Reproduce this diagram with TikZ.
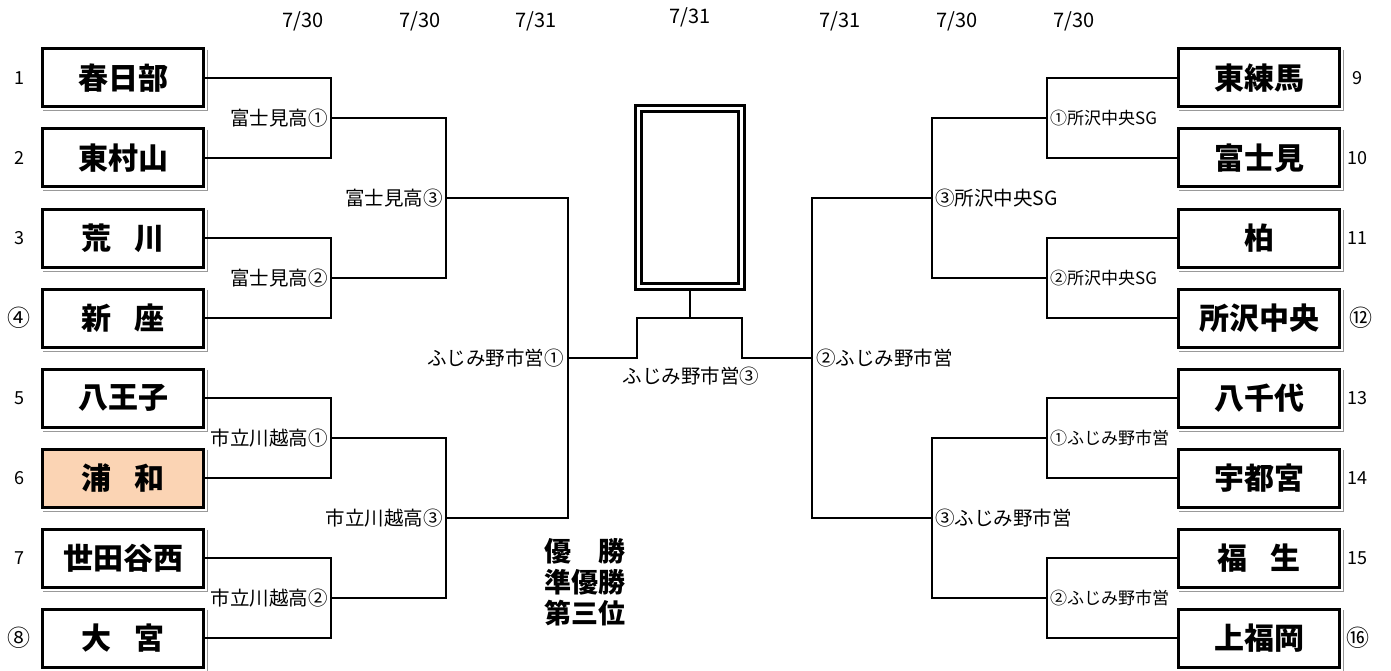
\documentclass[tikz,border=0pt]{standalone}
\usepackage{fontspec}
\setmainfont{Noto Sans CJK JP}
\definecolor{peach}{HTML}{FBD4B4}
\definecolor{shadowgray}{gray}{0.6}
\newcommand{\tsp}{{\fontsize{22.5}{22.5}\selectfont　}}
\begin{document}
\begin{tikzpicture}[x=1pt,y=-1pt,
  ln/.style={line width=2.7pt},
  team/.style={draw, line width=3pt, minimum width=161pt, minimum height=58pt,
    inner sep=0pt, outer sep=0pt, fill=white,
    font=\bfseries\fontsize{30}{30}\selectfont},
  lbl/.style={inner sep=0pt, font=\fontsize{19.5}{20}\selectfont},
  slbl/.style={inner sep=0pt, font=\fontsize{17}{18}\selectfont},
  num/.style={inner sep=0pt, font=\fontsize{18}{18}\selectfont},
  cnum/.style={inner sep=0pt, font=\fontsize{23}{23}\selectfont},
  date/.style={inner sep=0pt, font=\fontsize{20}{20}\selectfont},
  res/.style={inner sep=0pt, font=\bfseries\fontsize{27}{27}\selectfont}]
\useasboundingbox (0,0) rectangle (1391,671);

% left teams
\node[team] (b1) at (123,78)  {春日部};
\node[team] (b2) at (123,158) {東村山};
\node[team] (b3) at (123,238) {荒\tsp 川};
\node[team] (b4) at (123,318) {新\tsp 座};
\node[team] (b5) at (123,398) {八王子};
\node[team, fill=peach] (b6) at (123,478) {浦\tsp 和};
\node[team] (b7) at (123,558) {世田谷西};
\node[team] (b8) at (123,638) {大\tsp 宮};
% right teams
\node[team] (b9)  at (1259,78)  {東練馬};
\node[team] (b10) at (1259,158) {富士見};
\node[team] (b11) at (1259,238) {柏};
\node[team] (b12) at (1259,318) {所沢中央};
\node[team] (b13) at (1259,398) {八千代};
\node[team] (b14) at (1259,478) {宇都宮};
\node[team] (b15) at (1259,558) {福\tsp 生};
\node[team] (b16) at (1259,638) {上福岡};

\foreach \n in {b1,b2,b3,b4,b5,b6,b7,b8,b9,b10,b11,b12,b13,b14,b15,b16}
  \draw[draw=shadowgray, line width=1pt] ([xshift=4pt,yshift=-1pt]\n.north east) |- ([yshift=-4pt]\n.south west);

% seed numbers
\node[num] (n1) at (19,78)  {1};
\node[num] (n2) at (19,158) {2};
\node[num] (n3) at (19,238) {3};
\node[cnum] (n4) at (19,318) {④};
\node[num] (n5) at (19,398) {5};
\node[num] (n6) at (19,478) {6};
\node[num] (n7) at (19,558) {7};
\node[cnum] (n8) at (19,638) {⑧};
\node[num] (n9)  at (1357,78)  {9};
\node[num] (n10) at (1357,158) {10};
\node[num] (n11) at (1357,238) {11};
\node[cnum] (n12) at (1361,318) {⑫};
\node[num] (n13) at (1357,398) {13};
\node[num] (n14) at (1357,478) {14};
\node[num] (n15) at (1357,558) {15};
\node[cnum] (n16) at (1358,638) {⑯};

% dates
\node[date] (d1) at (303,21) {7/30};
\node[date] (d2) at (420,21) {7/30};
\node[date] (d3) at (536,21) {7/31};
\node[date] (d4) at (690,17) {7/31};
\node[date] (d5) at (840,21) {7/31};
\node[date] (d6) at (957,21) {7/30};
\node[date] (d7) at (1074,21) {7/30};

% trophy box
\node[draw, line width=3pt, double=white, double distance=3pt, minimum width=103pt,
  minimum height=178pt, inner sep=0pt, outer sep=0pt] (cup) at (690,197.5) {};

% junction coordinates
\coordinate (la1) at (331,118);
\coordinate (la2) at (331,278);
\coordinate (la3) at (331,438);
\coordinate (la4) at (331,598);
\coordinate (lb1) at (446,198);
\coordinate (lb2) at (446,518);
\coordinate (lc)  at (568,358);
\coordinate (cl)  at (637,358);
\coordinate (ctl) at (637,318);
\coordinate (ct)  at (690,318);
\coordinate (ctr) at (742,318);
\coordinate (cr)  at (742,358);
\coordinate (rc)  at (812,358);
\coordinate (rb1) at (932,198);
\coordinate (rb2) at (932,518);
\coordinate (ra1) at (1047,118);
\coordinate (ra2) at (1047,278);
\coordinate (ra3) at (1047,438);
\coordinate (ra4) at (1047,598);

% left bracket
\draw[ln] (b1.east) -| (la1) |- (b2.east);
\draw[ln] (b3.east) -| (la2) |- (b4.east);
\draw[ln] (b5.east) -| (la3) |- (b6.east);
\draw[ln] (b7.east) -| (la4) |- (b8.east);
\draw[ln] (la1) -| (lb1) |- (la2);
\draw[ln] (la3) -| (lb2) |- (la4);
\draw[ln] (lb1) -| (lc) |- (lb2);
% final
\draw[ln] (lc) -- (cl) -- (ctl) -- (ctr) -- (cr) -- (rc);
\draw[ln, shorten <=4.5pt] (cup.south) -- (ct);
% right bracket
\draw[ln] (b9.west) -| (ra1) |- (b10.west);
\draw[ln] (b11.west) -| (ra2) |- (b12.west);
\draw[ln] (b13.west) -| (ra3) |- (b14.west);
\draw[ln] (b15.west) -| (ra4) |- (b16.west);
\draw[ln] (ra1) -| (rb1) |- (ra2);
\draw[ln] (ra3) -| (rb2) |- (ra4);
\draw[ln] (rb1) -| (rc) |- (rb2);

% venue labels
\node[lbl, anchor=east] (v1) at (328,118) {富士見高①};
\node[lbl, anchor=east] (v2) at (328,278) {富士見高②};
\node[lbl, anchor=east] (v3) at (443,198) {富士見高③};
\node[lbl, anchor=east] (v4) at (328,438) {市立川越高①};
\node[lbl, anchor=east] (v5) at (328,598) {市立川越高②};
\node[lbl, anchor=east] (v6) at (443,518) {市立川越高③};
\node[lbl, anchor=east] (v7) at (564,358) {ふじみ野市営①};
\node[lbl] (v8) at (691,376) {ふじみ野市営③};
\node[lbl, anchor=west] (v9) at (816,358) {②ふじみ野市営};
\node[lbl, anchor=west] (v10) at (935,198) {③所沢中央SG};
\node[lbl, anchor=west] (v11) at (935,518) {③ふじみ野市営};
\node[slbl, anchor=west] (v12) at (1050,118) {①所沢中央SG};
\node[slbl, anchor=west] (v13) at (1050,278) {②所沢中央SG};
\node[slbl, anchor=west] (v14) at (1050,438) {①ふじみ野市営};
\node[slbl, anchor=west] (v15) at (1050,598) {②ふじみ野市営};

% results legend
\node[res] (r1) at (585,551) {優　勝};
\node[res] (r2) at (585,582) {準優勝};
\node[res] (r3) at (585,613) {第三位};
\end{tikzpicture}
\end{document}
